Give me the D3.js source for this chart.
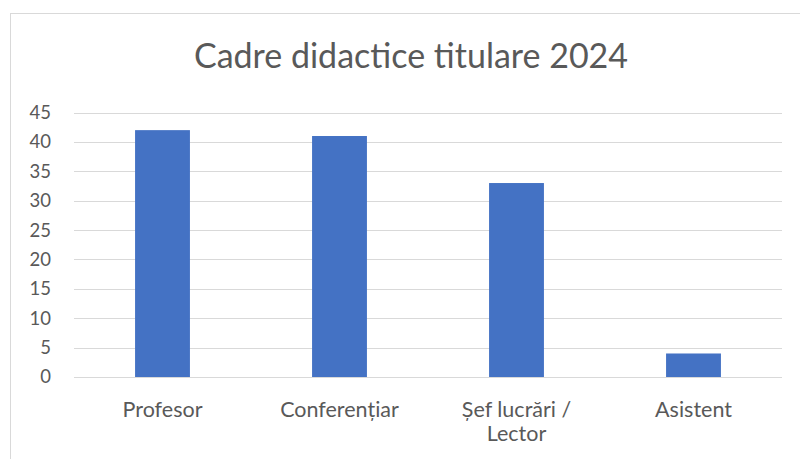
<!DOCTYPE html>
<html>
<head>
<meta charset="utf-8">
<script src="https://cdn.jsdelivr.net/npm/d3@7"></script>
<style>
  body { margin: 0; background: #fff; }
  text { font-family: Lato, "Open Sans", sans-serif; fill: #595959; }
</style>
</head>
<body>
<div id="chart"></div>
<script>
const width = 800;
const height = 459;

const categories = ["Profesor", "Conferențiar", "Șef lucrări / Lector", "Asistent"];
const values = [42, 41, 33, 4];
const yTicks = [0, 5, 10, 15, 20, 25, 30, 35, 40, 45];
const title = "Cadre didactice titulare 2024";

// plot area
const plotLeft = 74, plotRight = 782, plotTop = 112.5, plotBottom = 377;

const svg = d3.select("#chart")
  .append("svg")
    .attr("width", width)
    .attr("height", height);

// chart frame
svg.append("rect")
  .attr("x", 10.5)
  .attr("y", 13.5)
  .attr("width", 800)
  .attr("height", 500)
  .attr("fill", "#fff")
  .attr("stroke", "#d9d9d9");

svg.append("text")
  .attr("x", 411)
  .attr("y", 68)
  .attr("text-anchor", "middle")
  .style("font-size", "34px")
  .text(title);

const x = d3.scaleBand()
  .domain(categories)
  .range([plotLeft, plotRight])
  .paddingInner(0.69)
  .paddingOuter(0.345);

const y = d3.scaleLinear()
  .domain([0, 45])
  .range([plotBottom, plotTop]);

// gridlines
svg.append("g")
  .selectAll("line")
  .data(yTicks)
  .enter()
  .append("line")
    .attr("x1", plotLeft)
    .attr("x2", plotRight)
    .attr("y1", d => Math.round(y(d)) + 0.5)
    .attr("y2", d => Math.round(y(d)) + 0.5)
    .attr("stroke", "#d9d9d9")
    .attr("stroke-width", 1);

// y labels
svg.append("g")
  .selectAll("text")
  .data(yTicks)
  .enter()
  .append("text")
    .attr("x", 51)
    .attr("y", d => y(d))
    .attr("dy", "0.35em")
    .attr("text-anchor", "end")
    .style("font-size", "18.5px")
    .text(d => d);

// bars
svg.append("g")
  .selectAll("rect")
  .data(values)
  .enter()
  .append("rect")
    .attr("x", (d, i) => x(categories[i]))
    .attr("y", d => y(d))
    .attr("width", x.bandwidth())
    .attr("height", d => y(0) - y(d))
    .attr("fill", "#4472c4");

// x axis line
svg.append("line")
  .attr("x1", plotLeft)
  .attr("x2", plotRight)
  .attr("y1", Math.round(y(0)) + 0.5)
  .attr("y2", Math.round(y(0)) + 0.5)
  .attr("stroke", "#d9d9d9");

// category labels, wrapped like the original
const labelLines = {
  "Șef lucrări / Lector": ["Șef lucrări /", "Lector"]
};
const xl = svg.append("g")
  .selectAll("text")
  .data(categories)
  .enter()
  .append("text")
    .attr("text-anchor", "middle")
    .attr("x", d => x(d) + x.bandwidth() / 2)
    .attr("y", 416.5)
    .style("font-size", "21.5px");

xl.selectAll("tspan")
  .data(d => labelLines[d] || [d])
  .enter()
  .append("tspan")
    .attr("x", function() { return this.parentNode.getAttribute("x"); })
    .attr("dy", (d, i) => i === 0 ? 0 : 24)
    .text(d => d);
</script>
</body>
</html>
